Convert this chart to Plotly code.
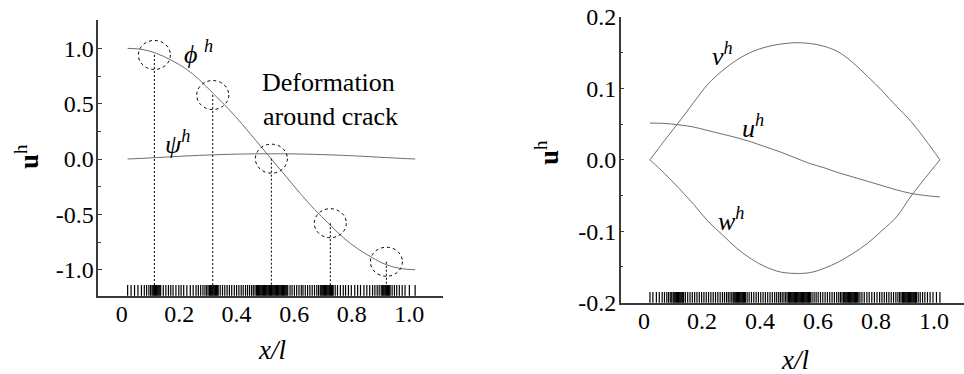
import plotly.graph_objects as go

# ---------------- data ----------------
# left panel: rotation / deflection fields along the beam
x_left = [0.0, 0.05, 0.1, 0.15, 0.2, 0.25, 0.3, 0.35, 0.4, 0.45, 0.5,
          0.55, 0.6, 0.65, 0.7, 0.75, 0.8, 0.85, 0.9, 0.95, 1.0]
phi_h = [1.0, 0.99, 0.955, 0.895, 0.82, 0.715, 0.585, 0.455, 0.31, 0.155, 0.0,
         -0.155, -0.31, -0.455, -0.585, -0.71, -0.81, -0.89, -0.955, -0.99, -1.0]
psi_h = [0.0, 0.006, 0.013, 0.02, 0.027, 0.033, 0.038, 0.042, 0.045, 0.047, 0.047,
         0.047, 0.045, 0.042, 0.038, 0.033, 0.027, 0.02, 0.013, 0.006, 0.0]

# highlighted nodes around the cracks
crack_x = [0.093, 0.296, 0.5, 0.705, 0.9]
crack_y = [0.94, 0.578, 0.003, -0.58, -0.928]

# right panel: displacement components
x_right = [0.0, 0.05, 0.1, 0.15, 0.2, 0.25, 0.3, 0.35, 0.4, 0.45, 0.5,
           0.55, 0.6, 0.65, 0.7, 0.75, 0.8, 0.85, 0.9, 0.95, 1.0]
v_h = [0.0, 0.027, 0.053, 0.08, 0.106, 0.125, 0.14, 0.151, 0.158, 0.162, 0.164,
       0.163, 0.159, 0.151, 0.136, 0.117, 0.097, 0.075, 0.054, 0.028, 0.0]
w_h = [0.0, -0.019, -0.04, -0.062, -0.086, -0.105, -0.124, -0.139, -0.15, -0.157, -0.159,
       -0.158, -0.152, -0.143, -0.131, -0.117, -0.099, -0.08, -0.051, -0.025, 0.0]
u_h = [0.0515, 0.051, 0.049, 0.046, 0.041, 0.036, 0.031, 0.025, 0.018, 0.011, 0.003,
       -0.005, -0.011, -0.018, -0.024, -0.03, -0.036, -0.042, -0.047, -0.05, -0.052]

# node distributions (shown as rugs along the x axes)
nodes_left = [
    0.0, 0.012, 0.024, 0.036, 0.048, 0.058, 0.066, 0.074, 0.08,
    0.085, 0.088, 0.091, 0.094, 0.097, 0.1, 0.103, 0.106, 0.109, 0.112, 0.115,
    0.124, 0.133, 0.142, 0.15, 0.158, 0.168, 0.178, 0.186, 0.195, 0.206, 0.218,
    0.228, 0.238, 0.246, 0.254, 0.262, 0.269, 0.275, 0.28,
    0.285, 0.288, 0.291, 0.294, 0.297, 0.3, 0.303, 0.306, 0.309, 0.312, 0.315,
    0.322, 0.33, 0.338, 0.346, 0.354, 0.362, 0.371, 0.379, 0.387, 0.395, 0.402,
    0.41, 0.417, 0.424, 0.431, 0.437, 0.443, 0.448,
    0.452, 0.455, 0.458, 0.461, 0.464, 0.467, 0.47, 0.473, 0.476, 0.479, 0.482,
    0.485, 0.488, 0.491, 0.494, 0.497, 0.5, 0.503, 0.506, 0.509, 0.512, 0.515,
    0.518, 0.521, 0.524, 0.527, 0.53, 0.533, 0.536, 0.539, 0.542, 0.545, 0.548,
    0.551, 0.554, 0.557,
    0.565, 0.572, 0.58, 0.588, 0.596, 0.604, 0.61, 0.618, 0.626, 0.634, 0.642,
    0.65, 0.658, 0.664,
    0.67, 0.673, 0.676, 0.679, 0.682, 0.685, 0.688, 0.691, 0.694, 0.697, 0.7,
    0.703, 0.706, 0.709, 0.712, 0.715,
    0.722, 0.73, 0.74, 0.75, 0.758, 0.768, 0.778, 0.79, 0.8, 0.81, 0.822, 0.832,
    0.842, 0.852, 0.86, 0.868, 0.875, 0.882,
    0.886, 0.889, 0.892, 0.895, 0.898, 0.901, 0.904, 0.907, 0.91, 0.913,
    0.92, 0.928, 0.936, 0.945, 0.955, 0.965, 0.98, 1.0,
]
nodes_right = [
    0.0, 0.01, 0.022, 0.032, 0.042, 0.05, 0.058, 0.064, 0.07, 0.075,
    0.08, 0.083, 0.086, 0.089, 0.092, 0.095, 0.098, 0.101, 0.104, 0.107, 0.11,
    0.113, 0.116,
    0.122, 0.13, 0.138, 0.146, 0.154, 0.162, 0.17, 0.178, 0.186, 0.194, 0.202,
    0.21, 0.218, 0.226, 0.234, 0.242, 0.25, 0.257, 0.264, 0.27, 0.276, 0.282,
    0.287, 0.29, 0.293, 0.296, 0.299, 0.302, 0.305, 0.308, 0.311, 0.314, 0.317,
    0.32, 0.323, 0.326, 0.329,
    0.335, 0.342, 0.35, 0.358, 0.366, 0.374, 0.382, 0.39, 0.398, 0.406, 0.414,
    0.422, 0.43, 0.437, 0.444, 0.45, 0.456, 0.462, 0.468, 0.473,
    0.478, 0.481, 0.484, 0.487, 0.49, 0.493, 0.496, 0.499, 0.502, 0.505, 0.508,
    0.511, 0.514, 0.517, 0.52, 0.523, 0.526, 0.529, 0.532, 0.535, 0.538, 0.541,
    0.544, 0.547, 0.55, 0.553,
    0.559, 0.566, 0.573, 0.58, 0.588, 0.596, 0.604, 0.612, 0.62, 0.628, 0.636,
    0.644, 0.651, 0.657, 0.662,
    0.667, 0.67, 0.673, 0.676, 0.679, 0.682, 0.685, 0.688, 0.691, 0.694, 0.697,
    0.7, 0.703, 0.706, 0.709, 0.712, 0.715, 0.718,
    0.724, 0.731, 0.739, 0.748, 0.756, 0.765, 0.774, 0.783, 0.792, 0.8, 0.808,
    0.816, 0.824, 0.832, 0.84, 0.848, 0.855, 0.861, 0.866,
    0.871, 0.874, 0.877, 0.88, 0.883, 0.886, 0.889, 0.892, 0.895, 0.898, 0.901,
    0.904, 0.907, 0.91, 0.913, 0.916, 0.919,
    0.925, 0.932, 0.94, 0.948, 0.957, 0.966, 0.976, 0.988, 1.0,
]

# tick labels
x_tickvals = [0.0, 0.2, 0.4, 0.6, 0.8, 1.0]
x_ticktext = ["0", "0.2", "0.4", "0.6", "0.8", "1.0"]
yl_tickvals = [1.0, 0.5, 0.0, -0.5, -1.0]
yl_ticktext = ["1.0", "0.5", "0.0", "-0.5", "-1.0"]
yr_tickvals = [0.2, 0.1, 0.0, -0.1, -0.2]
yr_ticktext = ["0.2", "0.1", "0.0", "-0.1", "-0.2"]

# ---------------- styling ----------------
W, H = 964, 374
FONT = "Liberation Serif, Times New Roman, serif"
CURVE = "#6e6e6e"
AXIS = "#3a3a3a"

YL_RANGE = [-1.235, 1.256]
YR_RANGE = [-0.2, 0.2]
RUG_PX = 9  # rug tick height in pixels

fig = go.Figure()

# left panel curves
fig.add_trace(go.Scatter(x=x_left, y=phi_h, mode="lines", line=dict(color=CURVE, width=1, shape="spline"),
                         xaxis="x", yaxis="y", hoverinfo="skip"))
fig.add_trace(go.Scatter(x=x_left, y=psi_h, mode="lines", line=dict(color=CURVE, width=1, shape="spline"),
                         xaxis="x", yaxis="y", hoverinfo="skip"))

# dotted drop lines from the crack nodes to the axis
drop_x, drop_y = [], []
for cx, cy in zip(crack_x, crack_y):
    drop_x += [cx, cx, None]
    drop_y += [cy, YL_RANGE[0], None]
fig.add_trace(go.Scatter(x=drop_x, y=drop_y, mode="lines",
                         line=dict(color="black", width=1, dash="2px,2px"),
                         xaxis="x", yaxis="y", hoverinfo="skip"))

# right panel curves
for yy in (v_h, u_h, w_h):
    fig.add_trace(go.Scatter(x=x_right, y=yy, mode="lines",
                             line=dict(color=CURVE, width=1, shape="spline"),
                             xaxis="x2", yaxis="y2", hoverinfo="skip"))

# rug of nodes, sitting on the x axis
left_plot_h = 295.7 - 20.0
right_plot_h = 302.7 - 17.0
rug_y_left = YL_RANGE[0] + (RUG_PX / 2) * (YL_RANGE[1] - YL_RANGE[0]) / left_plot_h
rug_y_right = YR_RANGE[0] + (RUG_PX / 2) * (YR_RANGE[1] - YR_RANGE[0]) / right_plot_h
fig.add_trace(go.Scatter(x=nodes_left, y=[rug_y_left] * len(nodes_left), mode="markers",
                         marker=dict(symbol="line-ns", size=RUG_PX, line=dict(color="black", width=1.2)),
                         xaxis="x", yaxis="y", hoverinfo="skip"))
fig.add_trace(go.Scatter(x=nodes_right, y=[rug_y_right] * len(nodes_right), mode="markers",
                         marker=dict(symbol="line-ns", size=RUG_PX, line=dict(color="black", width=1.2)),
                         xaxis="x2", yaxis="y2", hoverinfo="skip"))

# dotted circles around crack nodes
shapes = []
for cx, cy in zip(crack_x, crack_y):
    shapes.append(dict(type="circle", xref="x", yref="y",
                       xsizemode="pixel", ysizemode="pixel",
                       xanchor=cx, yanchor=cy,
                       x0=-16, x1=16, y0=-14.5, y1=14.5,
                       line=dict(color="black", width=1, dash="dot")))

label_font = dict(family=FONT, size=26, color="black")
title_font = dict(family=FONT, size=27, color="black")


def paper_note(text, px, py, **kw):
    return dict(text=text, x=px / W, y=1 - py / H, xref="paper", yref="paper",
                xanchor="center", yanchor="middle", showarrow=False, **kw)


annotations = [
    dict(text="<i>ϕ</i> <sup><i>h</i></sup>", x=0.245, y=0.965, xref="x", yref="y",
         showarrow=False, font=label_font),
    dict(text="<i>ψ</i><sup><i>h</i></sup>", x=0.175, y=0.15, xref="x", yref="y",
         showarrow=False, font=label_font),
    dict(text="Deformation", x=0.7, y=0.69, xref="x", yref="y",
         showarrow=False, font=label_font),
    dict(text="around crack", x=0.705, y=0.38, xref="x", yref="y",
         showarrow=False, font=label_font),
    dict(text="<i>v</i><sup><i>h</i></sup>", x=0.25, y=0.147, xref="x2", yref="y2",
         showarrow=False, font=label_font),
    dict(text="<i>u</i><sup><i>h</i></sup>", x=0.355, y=0.046, xref="x2", yref="y2",
         showarrow=False, font=label_font),
    dict(text="<i>w</i><sup><i>h</i></sup>", x=0.278, y=-0.083, xref="x2", yref="y2",
         showarrow=False, font=label_font),
    # axis titles
    paper_note("<b>u</b><sup>h</sup>", 27, 157, textangle=-90, font=title_font),
    paper_note("<b>u</b><sup>h</sup>", 547, 153, textangle=-90, font=title_font),
    paper_note("<i>x/l</i>", 272, 350, font=title_font),
    paper_note("<i>x/l</i>", 795, 360, font=title_font),
]

axis_common = dict(showgrid=False, zeroline=False, showline=True, linecolor=AXIS, linewidth=1.5,
                   tickfont=dict(family=FONT, size=24, color="black"), automargin=False)

fig.update_layout(
    width=W, height=H,
    margin=dict(l=0, r=0, t=0, b=0),
    paper_bgcolor="white", plot_bgcolor="white",
    showlegend=False,
    font=dict(family=FONT, color="black"),
    shapes=shapes,
    annotations=annotations,
    xaxis=dict(domain=[98.3 / W, 443.3 / W], range=[-0.102, 1.098], anchor="y",
               tickmode="array", tickvals=x_tickvals, ticktext=x_ticktext, ticks="",
               ticklabelshift=-6, ticklabelstandoff=-4, **axis_common),
    yaxis=dict(domain=[1 - 295.7 / H, 1 - 20.0 / H], range=YL_RANGE, anchor="x",
               tickmode="array", tickvals=yl_tickvals, ticktext=yl_ticktext,
               ticks="inside", ticklen=4, tickcolor=AXIS, tickwidth=1, ticklabelstandoff=-2,
               minor=dict(tickmode="linear", tick0=0, dtick=0.25, ticks="inside", ticklen=3,
                          tickcolor=AXIS, tickwidth=1),
               **axis_common),
    xaxis2=dict(domain=[620.7 / W, 1.0], range=[-0.101, 1.083], anchor="y2",
                tickmode="array", tickvals=x_tickvals, ticktext=x_ticktext, ticks="",
                ticklabelshift=-6, ticklabelstandoff=-4, **axis_common),
    yaxis2=dict(domain=[1 - 302.7 / H, 1 - 17.0 / H], range=YR_RANGE, anchor="x2",
                tickmode="array", tickvals=yr_tickvals, ticktext=yr_ticktext,
                ticks="inside", ticklen=4, tickcolor=AXIS, tickwidth=1, ticklabelstandoff=-2,
                minor=dict(tickmode="linear", tick0=0, dtick=0.05, ticks="inside", ticklen=3,
                           tickcolor=AXIS, tickwidth=1),
                **axis_common),
)

fig.write_html("out.html")
